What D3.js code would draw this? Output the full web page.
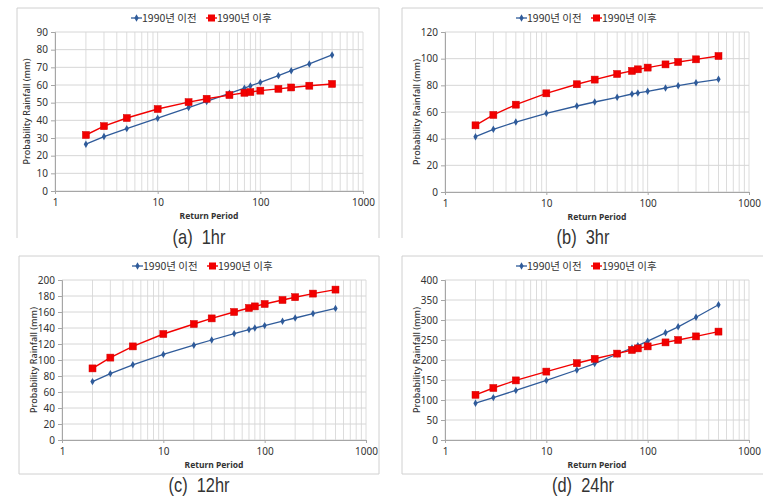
<!DOCTYPE html>
<html>
<head>
<meta charset="utf-8">
<script src="https://cdn.jsdelivr.net/npm/d3@7"></script>
<style>
  body { margin: 0; background: #fff; }
  text { font-family: "Noto Sans CJK KR", "Noto Sans", sans-serif; fill: #333; }
</style>
</head>
<body>
<svg width="763" height="503"></svg>
<script>
var returnPeriods = [2, 3, 5, 10, 20, 30, 50, 70, 80, 100, 150, 200, 300, 500];
var seriesNames = ["1990년 이전", "1990년 이후"];
var captions = ["(a)  1hr", "(b)  3hr", "(c)  12hr", "(d)  24hr"];

var before1hr  = [26.5, 30.8, 35.3, 41.2, 47.2, 50.7, 55.3, 58.2, 59.5, 61.5, 65.3, 68.1, 71.9, 77.0];
var after1hr   = [31.7, 36.7, 41.3, 46.4, 50.3, 52.2, 54.3, 55.6, 56.0, 56.8, 57.8, 58.6, 59.6, 60.6];
var before3hr  = [41.5, 47.0, 52.5, 59.0, 64.5, 67.5, 71.0, 73.5, 74.3, 75.5, 78.0, 79.7, 82.0, 84.5];
var after3hr   = [50.0, 57.8, 65.5, 74.0, 80.8, 84.3, 88.5, 90.8, 92.0, 93.3, 95.7, 97.5, 99.5, 102.0];
var before12hr = [73, 83, 94, 107, 118.5, 125, 133, 138, 140, 143, 148.5, 152.5, 158, 164.5];
var after12hr  = [89.5, 103, 117, 132.5, 145, 152, 160, 165, 167, 170, 175, 178.5, 183, 188];
var before24hr = [92, 106, 124, 149, 175, 191, 215, 230, 236, 247, 268, 283, 307, 338];
var after24hr  = [113, 130, 149, 171, 192, 203, 216, 225, 229, 234, 244, 250, 259, 271];

var yMax   = [90, 120, 200, 400];
var yStep  = [10, 20, 20, 50];

var svg = d3.select("svg");
var blue = "#2f5b9a";
var red = "#f20000";

var panels = [
  {frame: [17, 8, 379, 226], plot: [55, 32, 363, 191], cap: [199, 244], before: before1hr, after: after1hr, bottom: false},
  {frame: [402, 8, 770, 226], plot: [445, 32, 749, 192], cap: [583, 244], before: before3hr, after: after3hr, bottom: false},
  {frame: [19, 256, 379, 474], plot: [62, 280, 366, 440], cap: [199, 492], before: before12hr, after: after12hr, bottom: true},
  {frame: [402, 256, 770, 474], plot: [445, 280, 749, 440], cap: [583, 492], before: before24hr, after: after24hr, bottom: true}
];

panels.forEach(function (p, i) {
  var g = svg.append("g");
  var f = p.frame;
  // chart area border
  var fp = "M" + f[0] + "," + (p.bottom ? f[3] : f[3] + 12) + "V" + f[1] + "H" + f[2] + "V" + (p.bottom ? f[3] : f[3] + 12);
  if (p.bottom) fp += "H" + f[0];
  g.append("path").attr("d", fp).attr("fill", "none").attr("stroke", "#d0d0d0");

  var x = d3.scaleLog().domain([1, 1000]).range([p.plot[0], p.plot[2]]);
  var y = d3.scaleLinear().domain([0, yMax[i]]).range([p.plot[3], p.plot[1]]);

  // grid
  var minor = x.ticks();
  g.selectAll(".vg").data(minor).enter().append("line")
    .attr("x1", x).attr("x2", x).attr("y1", p.plot[1]).attr("y2", p.plot[3])
    .attr("stroke", "#dcdcdc");
  var yt = d3.range(0, yMax[i] + 0.001, yStep[i]);
  g.selectAll(".hg").data(yt).enter().append("line")
    .attr("x1", p.plot[0]).attr("x2", p.plot[2]).attr("y1", y).attr("y2", y)
    .attr("stroke", "#d6d6d6");

  var xAxis = d3.axisBottom(x).tickValues([1, 10, 100, 1000]).tickFormat(d3.format("d")).tickSize(3).tickPadding(5);
  var yAxis = d3.axisLeft(y).tickValues(yt).tickSize(4).tickPadding(3);
  var gx = g.append("g").attr("transform", "translate(0," + p.plot[3] + ")").call(xAxis);
  var gy = g.append("g").attr("transform", "translate(" + p.plot[0] + ",0)").call(yAxis);
  [gx, gy].forEach(function (ax) {
    ax.select(".domain").attr("stroke", "#a6a6a6");
    ax.selectAll(".tick line").attr("stroke", "#a6a6a6");
    ax.selectAll("text").style("font-size", "10px").attr("fill", "#333")
      .style("font-family", '"Noto Sans", sans-serif');
  });

  // axis titles
  g.append("text")
    .attr("x", (p.plot[0] + p.plot[2]) / 2).attr("y", p.plot[3] + 28)
    .attr("text-anchor", "middle").style("font-size", "8.5px").style("font-weight", "bold")
    .style("font-family", '"Noto Sans", sans-serif')
    .text("Return Period");
  g.append("text")
    .attr("transform", "rotate(-90)")
    .attr("x", -(p.plot[1] + p.plot[3]) / 2).attr("y", p.plot[0] - 25)
    .attr("text-anchor", "middle").style("font-size", "9px").style("font-weight", "500")
    .style("font-family", '"Noto Sans", sans-serif')
    .text("Probability Rainfall (mm)");

  // series
  var line = d3.line().x(function (d) { return x(d[0]); }).y(function (d) { return y(d[1]); });
  var bData = returnPeriods.map(function (rp, k) { return [rp, p.before[k]]; });
  var aData = returnPeriods.map(function (rp, k) { return [rp, p.after[k]]; });

  g.append("path").attr("d", line(bData)).attr("fill", "none").attr("stroke", blue).attr("stroke-width", 1.3);
  g.selectAll(".bm").data(bData).enter().append("path")
    .attr("d", d3.symbol(d3.symbolDiamond, 16))
    .attr("transform", function (d) { return "translate(" + x(d[0]) + "," + y(d[1]) + ")"; })
    .attr("fill", blue);

  g.append("path").attr("d", line(aData)).attr("fill", "none").attr("stroke", red).attr("stroke-width", 1.4);
  g.selectAll(".am").data(aData).enter().append("rect")
    .attr("x", function (d) { return x(d[0]) - 3.5; })
    .attr("y", function (d) { return y(d[1]) - 3.5; })
    .attr("width", 7).attr("height", 7)
    .attr("fill", red).attr("stroke", "#d40000").attr("stroke-width", 0.5);

  // legend
  var cx = (i % 2 === 1) ? 583 : (f[0] + f[2]) / 2;
  var ly = p.plot[1] - 14;
  var lg = g.append("g").attr("transform", "translate(" + (cx - 67) + "," + ly + ")");
  lg.append("line").attr("x1", 0).attr("x2", 11).attr("stroke", blue).attr("stroke-width", 1.3);
  lg.append("path").attr("d", d3.symbol(d3.symbolDiamond, 16)).attr("transform", "translate(5.5,0)").attr("fill", blue);
  lg.append("text").attr("x", 11).attr("y", 4).style("font-size", "10.5px").text(seriesNames[0]);
  lg.append("line").attr("x1", 75).attr("x2", 86).attr("stroke", red).attr("stroke-width", 1.4);
  lg.append("rect").attr("x", 77).attr("y", -3.5).attr("width", 7).attr("height", 7).attr("fill", red);
  lg.append("text").attr("x", 86).attr("y", 4).style("font-size", "10.5px").text(seriesNames[1]);

  // caption (condensed face, squeezed horizontally)
  svg.append("text")
    .attr("transform", "translate(" + p.cap[0] + "," + p.cap[1] + ") scale(0.82,1)")
    .attr("text-anchor", "middle")
    .attr("xml:space", "preserve")
    .style("font-family", '"Liberation Sans", Arial, sans-serif')
    .style("font-size", "20px").attr("fill", "#111")
    .text(captions[i]);
});
</script>
</body>
</html>
